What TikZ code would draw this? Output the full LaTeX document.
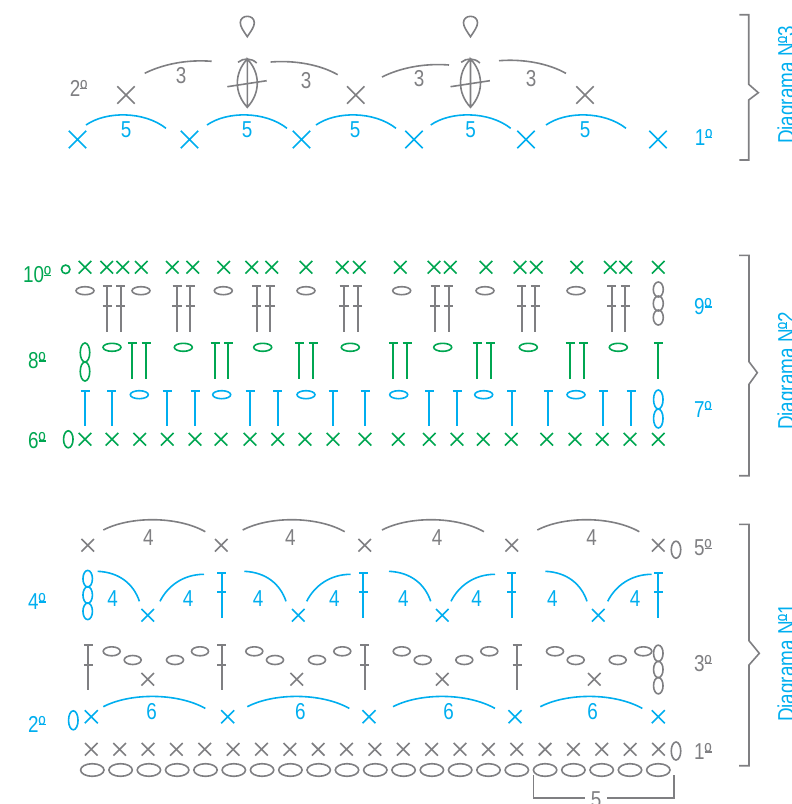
\documentclass[tikz,border=0pt]{standalone}
\usepackage{fontspec}
\usepackage{tikz}
\usetikzlibrary{shapes.misc,shapes.geometric,positioning}
\setmainfont[FakeStretch=0.82]{Liberation Sans}
\definecolor{ChartBlue}{HTML}{00AEEF}
\definecolor{ChartGreen}{HTML}{00A651}
\definecolor{ChartGray}{HTML}{7F7F82}
% Underlined ordinal sign
\newcommand{\ordsign}{\makebox[0pt][l]{\rule[0.31em]{0.31em}{0.055em}}º}
\tikzset{
    % Crosses
    crossmark/.style={
        cross out,
        draw=#1,
        line width=1.6pt,
        inner sep=0pt,
        outer sep=0pt,
        minimum size=12.6pt
    },
    bigcross/.style={
        crossmark=#1,
        minimum size=17.4pt
    },
    % Chain ovals
    ovalmark/.style={
        ellipse,
        draw=#1,
        line width=1.6pt,
        inner sep=0pt,
        minimum width=18pt,
        minimum height=8pt
    },
    % Standing ovals
    standoval/.style={
        ellipse,
        draw=#1,
        line width=1.6pt,
        inner sep=0pt,
        minimum width=9.5pt,
        minimum height=17pt
    },
    % Stitch lines and arcs
    strokeline/.style={
        draw=#1,
        line width=1.6pt
    },
    stemline/.style={
        draw=#1,
        line width=1.9pt
    },
    % Numbers and labels
    numlabel/.style={
        text=#1,
        inner sep=0pt,
        font=\fontsize{23}{23}\selectfont
    },
    diaglabel/.style={
        text=ChartBlue,
        inner sep=0pt,
        rotate=90,
        anchor=base west,
        font=\fontsize{23}{23}\selectfont
    },
    % Arcs
    shortarc/.pic={\draw[pic actions] (0,0) .. controls (20,-14) and (58,-14) .. (80,3.3);},
    longarc/.pic={\draw[pic actions] (0,0) .. controls (27,-14) and (74,-14) .. (102,1.7);},
    riselow/.pic={\draw[pic actions] (0,0) .. controls (18,-9) and (42,-14) .. (67,-12);},
    fallow/.pic={\draw[pic actions] (0,0) .. controls (25,-2) and (50,3) .. (67,12.7);},
    fallarc/.pic={\draw[pic actions] (0,0) .. controls (22,1) and (36,13) .. (41.7,30);},
    risearc/.pic={\draw[pic actions] (0,0) .. controls (8,-16) and (24,-27) .. (44,-27);},
    % Bobble and drop
    bobble/.pic={
        \draw[pic actions] (0,0) .. controls (-13.3,14) and (-13.3,34) .. (0,48.3)
            .. controls (13.3,34) and (13.3,14) .. (0,0) -- (0,48.3);
        \draw[pic actions] (-20,27.7) -- (19.4,21.7);
        \draw[pic actions] (-9.3,3.3) .. controls (-4,-1.2) and (4,-1.2) .. (9.4,4);
    },
    dropmark/.pic={
        \draw[pic actions] (0,0) .. controls (-4,-6) and (-7,-10) .. (-7,-14)
            .. controls (-7,-22.5) and (7,-22.5) .. (7,-14)
            .. controls (7,-10) and (4,-6) .. (0,0) -- cycle;
    }
}
\begin{document}
\begin{tikzpicture}[x=1pt,y=-1pt]
        \useasboundingbox (0,0) rectangle (792,804);

        % Diagram 3
        \foreach \x [count=\n] in {77.5,189.5,301.5,414,526,658}
            \node[bigcross=ChartBlue] (threeA\n) at (\x,139.5) {};
        \foreach \x [count=\n] in {126,355.7,585}
            \node[bigcross=ChartGray] (threeB\n) at (\x,95) {};
        \foreach \x/\y [count=\n] in {86/126,207/247,316/355,430.7/470.7,546/585} {
            \pic[strokeline=ChartBlue] at (\x,125) {shortarc};
            \node[numlabel=ChartBlue] (five\n) at (\y,130) {5};
        }
        \pic[strokeline=ChartGray] at (144.7,73.3) {riselow};
        \pic[strokeline=ChartGray] at (270.7,62) {fallow};
        \pic[strokeline=ChartGray] at (382,77) {riselow};
        \pic[strokeline=ChartGray] at (499,60.7) {fallow};
        \node[numlabel=ChartGray] (threeC1) at (181,76) {3};
        \node[numlabel=ChartGray] (threeC2) at (306,80.7) {3};
        \node[numlabel=ChartGray] (threeC3) at (419,79) {3};
        \node[numlabel=ChartGray] (threeC4) at (531,79) {3};
        \foreach \x in {247.3,470.5} {
            \pic[strokeline=ChartGray] at (\x,59) {bobble};
            \pic[strokeline=ChartGray] at (\x,36.7) {dropmark};
        }
        \node[numlabel=ChartGray] (rowTwoC) at (78.5,88) {2\ordsign};
        \node[numlabel=ChartBlue] (rowOneC) at (703.5,137) {1\ordsign};
        \draw[strokeline=ChartGray] (739.3,14.7) -- (748.7,14.7) -- (748.7,84.3) -- (758.3,92.7) -- (748.7,100) -- (748.7,160) -- (739.3,160);
        \node[diaglabel] (diagC) at (794,144) {Diagrama N\ordsign3};

        % Diagram 2
        \node[numlabel=ChartGreen] (rowTen) at (37,275) {10\ordsign};
        \node[circle,draw=ChartGreen,line width=1.6pt,inner sep=0pt,minimum size=8.5pt] (knot) at (65.7,269.3) {};
        \foreach \x [count=\n] in {85,106.7,122.7,141.3,172.3,192.7,223.7,251.7,271.7,306,342.3,359.3,400.3,434,450.3,486,520,536.3,576.7,610.3,625.7,658.3}
            \node[crossmark=ChartGreen] (tenX\n) at (\x,267.3) {};
        \foreach \x [count=\n] in {85,141,223.3,306,401.7,485,576}
            \node[ovalmark=ChartGray] (nineO\n) at (\x,290.7) {};
        \foreach \x in {107.3,120.7,177,190.3,256.7,270,344,357.7,435,448.7,521.7,535.3,611.7,625.3}
            \draw[stemline=ChartGray] (\x-4.5,286) -- (\x+4.5,286) (\x-4.7,306.3) -- (\x+4.7,306.3) (\x,286) -- (\x,331.7);
        \foreach \y [count=\n] in {289.5,303.5,317.5}
            \node[standoval=ChartGray,minimum width=10pt,minimum height=15pt] (nineV\n) at (658.3,\y) {};
        \node[numlabel=ChartBlue] (rowNine) at (702.7,306.7) {9\ordsign};

        \node[numlabel=ChartGreen] (rowEight) at (36.7,360.7) {8\ordsign};
        \node[standoval=ChartGreen,minimum height=19pt] (eightV1) at (85,352.5) {};
        \node[standoval=ChartGreen,minimum height=19pt] (eightV2) at (85,371.5) {};
        \foreach \x [count=\n] in {112,183.3,262.7,350.3,442.7,528.3,618.3}
            \node[ovalmark=ChartGreen] (eightO\n) at (\x,347.3) {};
        \foreach \x in {132.3,146,215,228.3,299.3,313,393.3,407,477,490.7,570,583.7,658.3}
            \draw[stemline=ChartGreen] (\x-4.5,343.3) -- (\x+4.5,343.3) (\x,343.3) -- (\x,379.3);

        \foreach \x in {85,111.7,167,195,250,277.7,333,365,429.3,457,511.7,548.3,603.3,631}
            \draw[stemline=ChartBlue] (\x-4.5,390.7) -- (\x+4.5,390.7) (\x,390.7) -- (\x,426);
        \foreach \x [count=\n] in {139.3,221.7,306,398.7,483.7,576}
            \node[ovalmark=ChartBlue] (sevenO\n) at (\x,394.7) {};
        \node[standoval=ChartBlue,minimum height=19pt] (sevenV1) at (658.3,399.5) {};
        \node[standoval=ChartBlue,minimum height=19pt] (sevenV2) at (658.3,418.5) {};
        \node[numlabel=ChartBlue] (rowSeven) at (702.7,409) {7\ordsign};

        \node[numlabel=ChartGreen] (rowSix) at (36.7,440.7) {6\ordsign};
        \node[standoval=ChartGreen] (sixV) at (68.3,439.3) {};
        \foreach \x [count=\n] in {85,112,139.7,167.3,195,221,250,277.7,305,333,365,398.3,429.3,457,483.3,511.3,546.7,575,602.3,630,658.3}
            \node[crossmark=ChartGreen] (sixX\n) at (\x,439.3) {};
        \draw[strokeline=ChartGray] (739,255.3) -- (749,255.3) -- (749,361.7) -- (757.3,372.7) -- (749,384.3) -- (749,475.7) -- (739,475.7);
        \node[diaglabel] (diagB) at (794,430) {Diagrama N\ordsign2};

        % Diagram 1
        \foreach \x [count=\n] in {87.7,221.3,364.7,511.7,658.3}
            \node[crossmark=ChartGray] (fiveX\n) at (\x,545.3) {};
        \node[standoval=ChartGray] (fiveV) at (676,549.7) {};
        \node[numlabel=ChartGray] (rowFive) at (702.7,548) {5\ordsign};
        \foreach \x/\y [count=\n] in {103.3/148.3,242.7/290.3,382/437,537.3/591.7} {
            \pic[strokeline=ChartGray] at (\x,530) {longarc};
            \node[numlabel=ChartGray] (fourA\n) at (\y,538) {4};
        }

        \node[numlabel=ChartBlue] (rowFour) at (36.7,601.7) {4\ordsign};
        \foreach \y [count=\n] in {578.7,595,611.3}
            \node[standoval=ChartBlue,minimum height=16.6pt] (fourV\n) at (87.7,\y) {};
        \foreach \x [count=\n] in {147.7,298.3,442.3,598.3}
            \node[crossmark=ChartBlue] (fourX\n) at (\x,615.3) {};
        \foreach \x in {97.7,244.3,389,545.3}
            \pic[strokeline=ChartBlue] at (\x,571.3) {fallarc};
        \foreach \x in {160,306.7,451,607.7}
            \pic[strokeline=ChartBlue] at (\x,601.3) {risearc};
        \foreach \x [count=\n] in {112.7,188,258,334.3,403.3,476.7,552.3,635}
            \node[numlabel=ChartBlue] (fourB\n) at (\x,598.3) {4};
        \foreach \x in {221.7,363.3,511.7,658.3}
            \draw[stemline=ChartBlue] (\x-4.5,572.7) -- (\x+4.5,572.7) (\x-4.5,592.3) -- (\x+4.5,592.3) (\x,572.7) -- (\x,617.7);

        \foreach \x in {88.3,221.7,364.7,517}
            \draw[stemline=ChartGray] (\x-4.5,645) -- (\x+4.5,645) (\x-4.5,665) -- (\x+4.5,665) (\x,645) -- (\x,690);
        \foreach \x [count=\n] in {111.7,200,254.3,342.3,401.7,489.3,555,643.3}
            \node[ovalmark=ChartGray,minimum width=17pt,minimum height=9pt] (threeH\n) at (\x,651.3) {};
        \foreach \x [count=\n] in {132.7,175,275,317,422.7,464.3,575.7,617.7}
            \node[ovalmark=ChartGray,minimum width=17pt,minimum height=9pt] (threeL\n) at (\x,660) {};
        \foreach \x [count=\n] in {147.7,296.7,442.3,594.3}
            \node[crossmark=ChartGray] (threeX\n) at (\x,679.3) {};
        \foreach \y [count=\n] in {653.3,669.5,685.7}
            \node[standoval=ChartGray,minimum height=16.4pt] (threeV\n) at (658.3,\y) {};
        \node[numlabel=ChartGray] (rowThree) at (702.7,663.3) {3\ordsign};

        \node[numlabel=ChartBlue] (rowTwo) at (36.7,724) {2\ordsign};
        \node[standoval=ChartBlue,minimum height=19pt] (twoV) at (73.3,720.3) {};
        \foreach \x [count=\n] in {91.3,227.7,369,515,658.3}
            \node[crossmark=ChartBlue,minimum size=13pt] (twoX\n) at (\x,716.7) {};
        \foreach \x/\y [count=\n] in {103.3/151.7,247.3/300.3,393/448.7,540.3/592.7} {
            \pic[strokeline=ChartBlue] at (\x,706.7) {longarc};
            \node[numlabel=ChartBlue] (six\n) at (\y,711.7) {6};
        }

        \foreach \n in {0,...,20} {
            \node[crossmark=ChartGray] (oneX\n) at ({91.3+28.36*\n},749.3) {};
            \node[ovalmark=ChartGray,minimum width=23.4pt,minimum height=12.6pt] (oneO\n) at ({92.3+28.3*\n},770) {};
        }
        \node[standoval=ChartGray,minimum height=18pt] (oneV) at (676,751) {};
        \node[numlabel=ChartGray] (rowOne) at (702.7,751.7) {1\ordsign};

        % Count under the chain
        \node[numlabel=ChartGray] (countFive) at (596,800) {5};
        \coordinate (countL) at (533.3,775);
        \coordinate (countR) at (674,775);
        \draw[strokeline=ChartGray] (countL) |- (585,797.7);
        \draw[strokeline=ChartGray] (countR) |- (607.3,797.7);

        \draw[strokeline=ChartGray] (739,524.3) -- (749,524.3) -- (749,640.7) -- (759.3,653.3) -- (749,665) -- (749,765.7) -- (739,765.7);
        \node[diaglabel] (diagA) at (794,722) {Diagrama N\ordsign1};
    \end{tikzpicture}
\end{document}
